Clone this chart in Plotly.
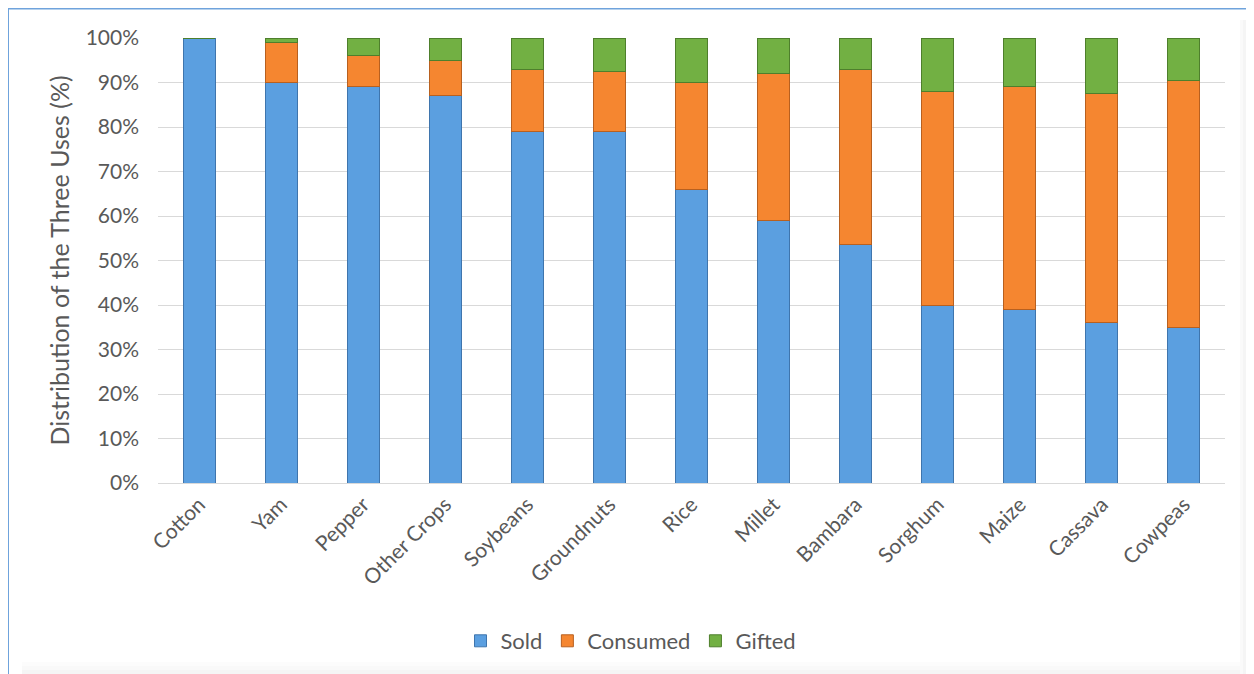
import plotly.graph_objects as go

crops = ["Cotton", "Yam", "Pepper", "Other Crops", "Soybeans", "Groundnuts", "Rice",
         "Millet", "Bambara", "Sorghum", "Maize", "Cassava", "Cowpeas"]
sold = [100, 90, 89, 87, 79, 79, 66, 59, 53.5, 40, 39, 36, 35]
consumed = [0, 9, 7, 8, 14, 13.5, 24, 33, 39.5, 48, 50, 51.5, 55.5]
gifted = [0, 1, 4, 5, 7, 7.5, 10, 8, 7, 12, 11, 12.5, 9.5]
y_ticks = [0, 10, 20, 30, 40, 50, 60, 70, 80, 90, 100]

# page body has an 8px margin, so figure coords = screen coords - 8
OFF = 8
W, H = 1254 - OFF, 674 - OFF
ml, mt = 158 - OFF, 38 - OFF
mr = W - (1225 - OFF)
mb = H - (483 - OFF)
pw, ph = W - ml - mr, H - mt - mb

def px(x):
    return (x - OFF - ml) / pw

def py(y):
    return (H - mb - (y - OFF)) / ph

fig = go.Figure()
series = [("Sold", sold, "#5B9FE0", "#3F75AD"),
          ("Consumed", consumed, "#F58630", "#B8601F"),
          ("Gifted", gifted, "#72B043", "#4E7F2C")]
for name, vals, col, edge in series:
    fig.add_trace(go.Bar(x=crops, y=vals, name=name,
                         marker=dict(color=col, line=dict(color=edge, width=1))))

shapes = [dict(type="rect", xref="paper", yref="paper",
               x0=px(8), x1=px(1275), y0=py(700), y1=py(8.5),
               line=dict(color="#6FA3DC", width=2), layer="below")]
# soft shadow at right and bottom edges
for i, c in enumerate(["#fafafa", "#f5f5f5", "#efefef", "#e8e8e8"]):
    shapes.append(dict(type="rect", xref="paper", yref="paper",
                       x0=px(1240 + 3 * i), x1=px(1256), y0=py(674), y1=py(20),
                       line=dict(width=0), fillcolor=c, layer="below"))
for i, c in enumerate(["#fcfcfc", "#f9f9f9", "#f5f5f5"]):
    shapes.append(dict(type="rect", xref="paper", yref="paper",
                       x0=px(22), x1=px(1240), y0=py(676), y1=py(662 + 4 * i),
                       line=dict(width=0), fillcolor=c, layer="below"))

fig.update_layout(
    barmode="stack",
    bargap=0.61,
    width=W, height=H,
    margin=dict(l=ml, r=mr, t=mt, b=mb),
    paper_bgcolor="white",
    plot_bgcolor="white",
    font=dict(family="Lato, Open Sans, sans-serif", color="#595959", size=21),
    xaxis=dict(tickangle=-45, tickfont=dict(size=21), showline=True,
               linecolor="#D9D9D9", linewidth=1, ticks=""),
    yaxis=dict(range=[0, 100], tickvals=y_ticks,
               ticktext=[f"{v}%" for v in y_ticks],
               showgrid=True, gridcolor="#D9D9D9", gridwidth=1,
               zeroline=False, tickfont=dict(size=21), ticklabelstandoff=18,
               title=dict(text="Distribution of the Three Uses (%)",
                          font=dict(size=25), standoff=8)),
    legend=dict(orientation="h", x=px(631), xanchor="center", y=py(641),
                yanchor="middle", font=dict(size=22), traceorder="normal"),
    shapes=shapes,
)

fig.write_html("out.html")
